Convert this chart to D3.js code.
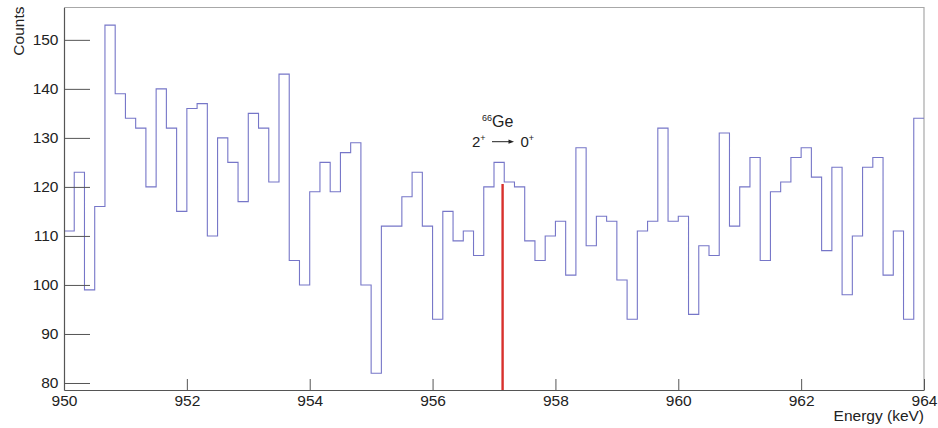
<!DOCTYPE html>
<html>
<head>
<meta charset="utf-8">
<script src="https://cdn.jsdelivr.net/npm/d3@7/dist/d3.min.js"></script>
<style>
  body { margin: 0; background: #fff; }
  svg { display: block; font-family: "Liberation Sans", Arial, sans-serif; }
</style>
</head>
<body>
<div id="main"></div>
<script>
// histogram: 84 bins between 950 and 964 keV
const binLow = 950
const binHigh = 964
const counts = [
    111, 123, 99, 116, 153, 139, 134, 132, 120, 140,
    132, 115, 136, 137, 110, 130, 125, 117, 135, 132,
    121, 143, 105, 100, 119, 125, 119, 127, 129, 100,
    82, 112, 112, 118, 123, 112, 93, 115, 109, 111,
    106, 120, 125, 121, 120, 109, 105, 110, 113, 102,
    128, 108, 114, 113, 101, 93, 111, 113, 132, 113,
    114, 94, 108, 106, 131, 112, 120, 126, 105, 119,
    121, 126, 128, 122, 107, 124, 98, 110, 124, 126,
    102, 111, 93, 134
]
const xMajorTicks = [950, 952, 954, 956, 958, 960, 962, 964]
const yMajorTicks = [80, 90, 100, 110, 120, 130, 140, 150]
const yRange = [78.57, 156.6]
// the 66Ge 2+ -> 0+ line marker
const markerEnergy = 957.14
const markerTop = 120.6

const ctx = {
    w: 938,
    h: 428,
    left: 64,
    right: 924,
    top: 7.5,
    bottom: 390,
    fs: 15.5
}

function createViz() {
    let svg = d3.select('#main').append('svg')
        .attr('width', ctx.w)
        .attr('height', ctx.h)

    let x = d3.scaleLinear().domain([binLow, binHigh]).range([ctx.left, ctx.right])
    let y = d3.scaleLinear().domain(yRange).range([ctx.bottom, ctx.top])

    // frame top / right
    svg.append('path')
        .attr('d', `M${ctx.left},${ctx.top}H${ctx.right}V${ctx.bottom}`)
        .attr('fill', 'none')
        .attr('stroke', '#a8a8a8')
        .attr('stroke-width', 1.2)

    // histogram
    let bw = (binHigh - binLow) / counts.length
    let pts = counts.map((c, i) => [binLow + i * bw, c])
    pts.push([binHigh, counts[counts.length - 1]])
    svg.append('path')
        .datum(pts)
        .attr('fill', 'none')
        .attr('stroke', '#7676c8')
        .attr('stroke-width', 1.1)
        .attr('d', d3.line()
            .x(d => x(d[0]))
            .y(d => y(d[1]))
            .curve(d3.curveStepAfter))

    // red marker
    svg.append('line')
        .attr('x1', x(markerEnergy)).attr('x2', x(markerEnergy))
        .attr('y1', y(yRange[0])).attr('y2', y(markerTop))
        .attr('stroke', '#d8302c')
        .attr('stroke-width', 2.4)

    // x axis
    let xMinor = d3.range(binLow, binHigh + 0.01, 0.5)
    let gx = svg.append('g').attr('transform', `translate(0,${ctx.bottom})`)
    gx.call(d3.axisBottom(x).tickValues(xMinor).tickSize(-5).tickSizeOuter(0).tickFormat(''))
    gx.call(d3.axisBottom(x).tickValues(xMajorTicks).tickSize(-11).tickSizeOuter(0).tickPadding(5).tickFormat(d3.format('d')))
    gx.selectAll('text').attr('font-size', ctx.fs).attr('fill', '#222').attr('font-family', null)

    // y axis
    let yMinor = d3.range(80, 157, 2)
    let gy = svg.append('g').attr('transform', `translate(${ctx.left},0)`)
    gy.call(d3.axisLeft(y).tickValues(yMinor).tickSize(-13).tickSizeOuter(0).tickFormat(''))
    gy.call(d3.axisLeft(y).tickValues(yMajorTicks).tickSize(-26).tickSizeOuter(0).tickPadding(5.5).tickFormat(d3.format('d')))
    gy.selectAll('text').attr('font-size', ctx.fs).attr('fill', '#222').attr('font-family', null)

    svg.selectAll('.domain').attr('stroke', '#555').attr('stroke-width', 1.2)
    svg.selectAll('.tick line').attr('stroke', '#555')

    // axis titles
    svg.append('text')
        .attr('transform', `translate(23.5,${ctx.top - 1}) rotate(-90)`)
        .attr('text-anchor', 'end')
        .attr('font-size', ctx.fs)
        .attr('fill', '#222')
        .text('Counts')
    svg.append('text')
        .attr('x', ctx.right)
        .attr('y', 421)
        .attr('text-anchor', 'end')
        .attr('font-size', ctx.fs)
        .attr('fill', '#222')
        .text('Energy (keV)')

    // annotation
    let ann = svg.append('g').attr('fill', '#222')
    let t1 = ann.append('text').attr('x', 482).attr('y', 126.7).attr('font-size', 16)
    t1.append('tspan').attr('font-size', 9).attr('dy', -6).text('66')
    t1.append('tspan').attr('dy', 6).text('Ge')

    let t2 = ann.append('text').attr('x', 472).attr('y', 146.7).attr('font-size', 15)
    t2.append('tspan').text('2')
    t2.append('tspan').attr('font-size', 9).attr('dy', -6).text('+')
    let t3 = ann.append('text').attr('x', 520.5).attr('y', 146.7).attr('font-size', 15)
    t3.append('tspan').text('0')
    t3.append('tspan').attr('font-size', 9).attr('dy', -6).text('+')
    ann.append('line')
        .attr('x1', 492).attr('x2', 510)
        .attr('y1', 141.7).attr('y2', 141.7)
        .attr('stroke', '#222').attr('stroke-width', 1)
    ann.append('path')
        .attr('d', 'M514,141.7 L508.5,139.6 L508.5,143.8 Z')
}

createViz()
</script>
</body>
</html>
